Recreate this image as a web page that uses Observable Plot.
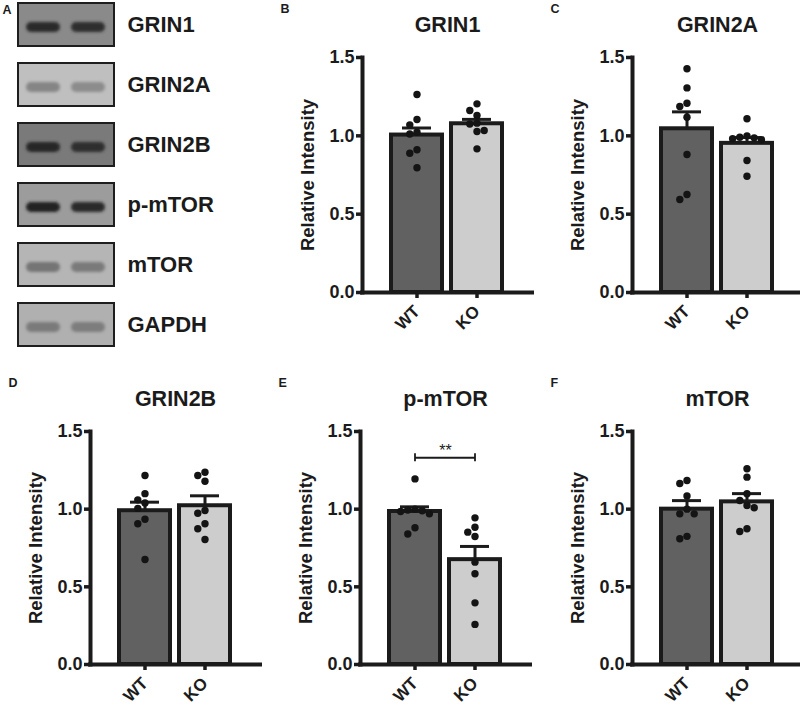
<!DOCTYPE html>
<html><head><meta charset="utf-8">
<script src="https://cdn.jsdelivr.net/npm/d3@7"></script>
<script src="https://cdn.jsdelivr.net/npm/@observablehq/plot@0.6"></script>
<style>
html,body{margin:0;padding:0;background:#fff;overflow:hidden;}
#fig{position:relative;width:800px;height:713px;overflow:hidden;background:#fff;}
#fig svg{position:absolute;}
</style></head><body><div id="fig"></div>
<script>
// ---------- data ----------
const groups = ["WT", "KO"];
const proteins = ["GRIN1", "GRIN2A", "GRIN2B", "p-mTOR", "mTOR", "GAPDH"];
// western blot optical densities (0 = white, 1 = black)
const blotBackground = [0.46, 0.25, 0.52, 0.39, 0.29, 0.31];
const bandWT = [0.84, 0.48, 0.85, 0.87, 0.54, 0.52];
const bandKO = [0.82, 0.45, 0.82, 0.84, 0.52, 0.51];

const panelLetters = ["B", "C", "D", "E", "F"];
const panelTitles = ["GRIN1", "GRIN2A", "GRIN2B", "p-mTOR", "mTOR"];
const meanWT = [1.005, 1.045, 0.99, 0.985, 1.0];
const semWT  = [0.045, 0.108, 0.055, 0.03, 0.055];
const meanKO = [1.077, 0.952, 1.022, 0.675, 1.047];
const semKO  = [0.028, 0.037, 0.064, 0.085, 0.053];
const pointsWT = [
  [1.264, 1.104, 1.070, 1.023, 1.012, 0.911, 0.889, 0.796],
  [1.428, 1.306, 1.208, 1.187, 1.119, 0.881, 0.626, 0.594],
  [1.217, 1.100, 1.060, 1.040, 1.005, 0.935, 0.906, 0.676],
  [1.195, 1.000, 0.995, 0.990, 0.985, 0.970, 0.880, 0.840],
  [1.185, 1.165, 1.085, 1.000, 0.970, 0.970, 0.825, 0.810]
];
const pointsKO = [
  [1.204, 1.162, 1.130, 1.081, 1.076, 1.034, 1.028, 0.917],
  [1.109, 1.000, 0.991, 0.987, 0.981, 0.975, 0.843, 0.742],
  [1.238, 1.217, 1.180, 0.991, 0.974, 0.906, 0.874, 0.805],
  [0.944, 0.884, 0.852, 0.824, 0.659, 0.584, 0.397, 0.258],
  [1.260, 1.206, 1.099, 1.056, 1.024, 1.009, 0.874, 0.856]
];
const yTicks = [0, 0.5, 1.0, 1.5];
const significance = [{panel: 3, from: "WT", to: "KO", y: 1.331, label: "**"}];

// ---------- layout ----------
const FONT = "'Liberation Sans', Arial, Helvetica, sans-serif";
const INK = "#1b1b1b";
const fig = document.getElementById("fig");
// [y-axis x, pixel of 1.5, pixel of 0]
const layout = [[362, 57, 292], [632, 57, 292], [90, 431, 664], [360, 431, 664], [632, 431, 664]];

// ---------- panel A : blots ----------
const blotRows = proteins.map((p, i) => ({protein: p, d: blotBackground[i]}));
const bands = proteins.flatMap((p, i) => [
  {protein: p, lane: "WT", d: bandWT[i]},
  {protein: p, lane: "KO", d: bandKO[i]}
]);
const svgA = Plot.plot({
  width: 250, height: 351,
  marginLeft: 18, marginRight: 136, marginTop: 1, marginBottom: 2,
  style: `background:transparent;overflow:visible;font-family:${FONT};color:${INK};`,
  x: {domain: groups, padding: 0.11, axis: null},
  y: {domain: proteins, paddingInner: 0.276, paddingOuter: 0},
  color: {type: "linear", domain: [0, 1], range: ["#ffffff", "#000000"]},
  marks: [
    Plot.cell(blotRows, {y: "protein", fill: "d", stroke: "#1e1e1e", strokeWidth: 2}),
    Plot.cell(bands, {x: "lane", y: "protein", fill: "d", insetLeft: 3, insetRight: 3, insetTop: 19, insetBottom: 14, rx: 5}),
    Plot.axisY({anchor: "right", tickSize: 0, tickPadding: 13, fontSize: 22, fontWeight: "bold", label: null}),
    Plot.text(["A"], {text: d => d, frameAnchor: "top-left", dx: -16, dy: 8, textAnchor: "start", lineAnchor: "middle", fontSize: 12.5, fontWeight: "bold"})
  ]
});
svgA.style.left = "0px"; svgA.style.top = "0px";
fig.appendChild(svgA);
{
  const s = d3.select(svgA);
  const f = s.append("defs").append("filter").attr("id", "blotblur")
    .attr("x", "-20%").attr("y", "-60%").attr("width", "140%").attr("height", "220%");
  f.append("feGaussianBlur").attr("stdDeviation", 1.7);
  s.selectAll('g[aria-label="cell"]').filter((d, i) => i === 1).attr("filter", "url(#blotblur)");
}

// ---------- bar panels ----------
function swarmColumns(values, pxPerUnit, diam) {
  const order = values.map((v, i) => i).sort((a, b) => values[b] - values[a]);
  const placed = [], cols = new Array(values.length);
  const tryOrder = [0, -1, 1, -2, 2, -3, 3, -4, 4];
  for (const i of order) {
    for (const c of tryOrder) {
      if (placed.every(p => p.c !== c || Math.abs(p.v - values[i]) * pxPerUnit >= diam)) {
        cols[i] = c; placed.push({c, v: values[i]}); break;
      }
    }
  }
  return cols;
}

function barPanel(k) {
  const [ax, y15, y0] = layout[k];
  const mL = 90, mT = 57, mB = k < 2 ? 58 : 48, frameW = 170, W = 270;
  const mR = W - mL - frameW;
  const H = mT + (y0 - y15) + mB;
  const pxPerUnit = (y0 - y15) / 1.5;
  const stats = groups.map((g, j) => ({
    g, mean: (j ? meanKO : meanWT)[k], sem: (j ? semKO : semWT)[k]
  }));
  const pts = [];
  groups.forEach((g, j) => {
    const vals = (j ? pointsKO : pointsWT)[k];
    const cols = swarmColumns(vals, pxPerUnit, 7.4);
    vals.forEach((v, i) => pts.push({g, v, col: cols[i]}));
  });
  const colSet = [...new Set(pts.map(p => p.col))];
  const sig = significance.filter(s => s.panel === k);

  const marks = [
    Plot.barY(stats, {x: "g", y: "mean", fill: "g", stroke: INK, strokeWidth: 4}),
    Plot.ruleX(stats, {x: "g", y1: "mean", y2: d => d.mean + d.sem, stroke: INK, strokeWidth: 3}),
    Plot.tickY(stats, {x: "g", y: d => d.mean + d.sem, stroke: INK, strokeWidth: 3, insetLeft: 11, insetRight: 11}),
    ...colSet.map(c => Plot.dot(pts.filter(p => p.col === c), {x: "g", y: "v", r: 3.7, fill: "#141414", dx: c * 7.2})),
    Plot.frame({anchor: "left", stroke: INK, strokeWidth: 4, strokeLinecap: "square"}),
    Plot.ruleY([0], {stroke: INK, strokeWidth: 4, strokeLinecap: "square"}),
    Plot.axisY({ticks: yTicks, tickFormat: d3.format(".1f"), tickSize: 6, tickPadding: 2, strokeWidth: 3.5, fontSize: 18, fontWeight: "bold", label: null}),
    Plot.axisX({tickRotate: -45, tickSize: 6, tickPadding: 10, strokeWidth: 3.5, fontSize: 17, fontWeight: "bold", label: null}),
    Plot.text(["Relative Intensity"], {text: d => d, frameAnchor: "left", rotate: -90, dx: -54, textAnchor: "middle", lineAnchor: "middle", fontSize: 18.5, fontWeight: "bold"}),
    Plot.text([panelTitles[k]], {text: d => d, frameAnchor: "top", dy: -32.5, textAnchor: "middle", lineAnchor: "middle", fontSize: 21.5, fontWeight: "bold"}),
    Plot.text([panelLetters[k]], {text: d => d, frameAnchor: "top-left", dx: -82, dy: -49, textAnchor: "start", lineAnchor: "middle", fontSize: 12.5, fontWeight: "bold"})
  ];
  if (sig.length) {
    marks.push(
      Plot.link(sig, {x1: "from", x2: "to", y1: "y", y2: "y", stroke: INK, strokeWidth: 1.8}),
      Plot.ruleX(sig.flatMap(s => [{x: s.from, y: s.y}, {x: s.to, y: s.y}]), {x: "x", y1: "y", y2: "y", insetTop: -4, insetBottom: -4, stroke: INK, strokeWidth: 1.8}),
      Plot.text(sig, {y: "y", text: "label", dy: -6.4, textAnchor: "middle", lineAnchor: "middle", fontSize: 16, fontWeight: "normal"})
    );
  }
  const svg = Plot.plot({
    width: W, height: H, marginLeft: mL, marginRight: mR, marginTop: mT, marginBottom: mB,
    style: `background:transparent;overflow:visible;font-family:${FONT};color:${INK};`,
    x: {domain: groups, range: [mL + 19.5, mL + 148.5], padding: 0.15},
    y: {domain: [0, 1.5]},
    color: {domain: groups, range: ["#616161", "#cdcdcd"]},
    marks
  });
  svg.style.left = (ax - mL) + "px";
  svg.style.top = (y15 - mT) + "px";
  fig.appendChild(svg);
}
for (let k = 0; k < 5; k++) barPanel(k);
</script>
</body></html>
